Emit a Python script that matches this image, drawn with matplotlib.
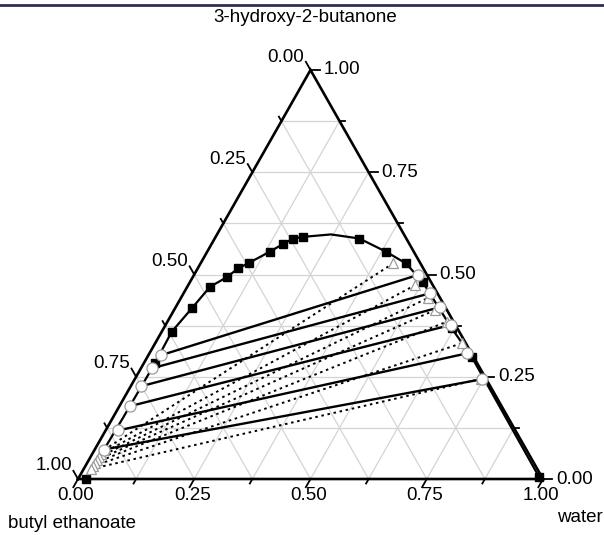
import numpy as np
import matplotlib
matplotlib.use("Agg")
import matplotlib.pyplot as plt
from matplotlib.lines import Line2D

plt.rcParams['font.family'] = ['Liberation Sans', 'DejaVu Sans']

# ternary data: w = water fraction, h = 3-hydroxy-2-butanone fraction
binodal_w = [0.018, 0.022, 0.024, 0.0215, 0.036, 0.049, 0.073, 0.087, 0.104, 0.135, 0.154, 0.169, 0.188,
             0.245, 0.311, 0.384, 0.442, 0.500, 0.620, 0.697, 0.990]
binodal_h = [0.000, 0.150, 0.283, 0.360, 0.417, 0.470, 0.493, 0.515, 0.529, 0.556, 0.575, 0.588, 0.592,
             0.598, 0.588, 0.556, 0.527, 0.482, 0.368, 0.299, 0.004]
# which binodal points carry a square marker
square_idx = [0, 2, 3, 4, 5, 6, 7, 8, 9, 10, 11, 12, 14, 15, 16, 17, 18, 19, 20]

# experimental tie lines (open circles, solid lines)
tie_left_w = [0.028, 0.0245, 0.023, 0.0226, 0.0267, 0.0199]
tie_left_h = [0.303, 0.271, 0.227, 0.178, 0.1186, 0.0721]
tie_right_w = [0.482, 0.530, 0.5685, 0.613, 0.682, 0.746]
tie_right_h = [0.499, 0.454, 0.420, 0.3765, 0.307, 0.2438]

# calculated tie lines (open triangles, dotted lines)
calc_left_w = [0.0204, 0.019, 0.0183, 0.0177, 0.017, 0.0164, 0.0158]
calc_left_h = [0.0709, 0.0611, 0.0538, 0.0465, 0.039, 0.0318, 0.0244]
calc_right_w = [0.414, 0.488, 0.531, 0.561, 0.6006, 0.659, 0.745]
calc_right_h = [0.527, 0.474, 0.4425, 0.413, 0.3846, 0.3318, 0.245]

tick_vals = [0.0, 0.25, 0.5, 0.75, 1.0]
tick_labels = ["0.00", "0.25", "0.50", "0.75", "1.00"]

S3 = np.sqrt(3) / 2
FS = 13.5


def tern(w, h):
    w = np.asarray(w, dtype=float)
    h = np.asarray(h, dtype=float)
    return w + h / 2, h * S3


fig = plt.figure(figsize=(6.04, 5.35), dpi=100)
ax = fig.add_axes([78 / 604, 56 / 535, 465 / 604, 409 / 535])
ax.set_xlim(0, 1)
ax.set_ylim(0, S3)
ax.axis("off")

# top border line of the original figure
fig.add_artist(Line2D([0, 1], [0.991, 0.991], transform=fig.transFigure, color="#2b3050", lw=2))

# grid every 0.125
grid_col = "#d4d4d4"
for v in np.arange(0.125, 1.0, 0.125):
    x, y = tern([0, 1 - v], [v, v])
    ax.plot(x, y, color=grid_col, lw=0.9, zorder=1)
    x, y = tern([v, v], [0, 1 - v])
    ax.plot(x, y, color=grid_col, lw=0.9, zorder=1)
    x, y = tern([0, 1 - v], [1 - v, 0])
    ax.plot(x, y, color=grid_col, lw=0.9, zorder=1)

# triangle edges
x, y = tern([0, 1, 0, 0], [0, 0, 1, 0])
ax.plot(x, y, color="black", lw=1.9, zorder=5, solid_joinstyle="miter", clip_on=False)

# ticks
L_major = 0.020
L_minor = 0.011
for v in np.arange(0, 1.0001, 0.125):
    major = abs(v / 0.25 - round(v / 0.25)) < 1e-6
    L = L_major if major else L_minor
    bx, by = tern(v, 0)
    ax.plot([bx, bx - 0.5 * L], [by, by - S3 * L], color="black", lw=1.3, clip_on=False)
    rx, ry = tern(1 - v, v)
    ax.plot([rx, rx + L], [ry, ry], color="black", lw=1.3, clip_on=False)
    lx, ly = tern(0, 1 - v)
    ax.plot([lx, lx - 0.5 * L], [ly, ly + S3 * L], color="black", lw=1.3, clip_on=False)

# tick labels
for v, lab in zip(tick_vals, tick_labels):
    bx, by = tern(v, 0)
    ax.annotate(lab, (bx, by), xytext=(-2, -16), textcoords="offset pixels",
                ha="center", va="center", fontsize=FS)
    rx, ry = tern(1 - v, v)
    ax.annotate(lab, (rx, ry), xytext=(13, 0), textcoords="offset pixels",
                ha="left", va="center", fontsize=FS)
    lx, ly = tern(0, 1 - v)
    ax.annotate(lab, (lx, ly), xytext=(-6, 13), textcoords="offset pixels",
                ha="right", va="center", fontsize=FS)

# calculated tie lines
for i in range(len(calc_left_w)):
    x, y = tern([calc_left_w[i], calc_right_w[i]], [calc_left_h[i], calc_right_h[i]])
    ax.plot(x, y, color="black", lw=1.4, ls=(0, (1.3, 1.9)), zorder=3)

# experimental tie lines
for i in range(len(tie_left_w)):
    x, y = tern([tie_left_w[i], tie_right_w[i]], [tie_left_h[i], tie_right_h[i]])
    ax.plot(x, y, color="black", lw=1.7, zorder=4)

# binodal curve
x, y = tern(binodal_w, binodal_h)
ax.plot(x, y, color="black", lw=1.6, zorder=4)
ax.plot(x[square_idx], y[square_idx], ls="none", marker="s", ms=6, color="black", zorder=6, clip_on=False)

# markers
x, y = tern(calc_left_w + calc_right_w, calc_left_h + calc_right_h)
ax.plot(x, y, ls="none", marker="^", ms=7, mfc="white", mec="#9a9a9a", mew=0.9, zorder=7)
x, y = tern(tie_left_w + tie_right_w, tie_left_h + tie_right_h)
ax.plot(x, y, ls="none", marker="o", ms=8, mfc="white", mec="#9a9a9a", mew=0.9, zorder=8)

# component labels
fig.text(305 / 604, 1 - 17 / 535, "3-hydroxy-2-butanone", ha="center", va="center", fontsize=FS)
fig.text(8 / 604, 1 - 523 / 535, "butyl ethanoate", ha="left", va="center", fontsize=FS)
fig.text(603 / 604, 1 - 518 / 535, "water", ha="right", va="center", fontsize=FS)

fig.savefig("out.png", dpi=100)
